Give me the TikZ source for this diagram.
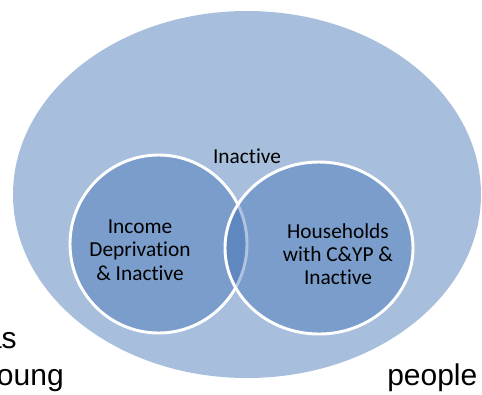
\documentclass[tikz,border=0pt]{standalone}
\usepackage{fontspec}
\setmainfont{Carlito}[Ligatures=NoCommon]
\newfontfamily\arialfont{Liberation Sans}
\usepackage{tikz}
\usetikzlibrary{calc}
\usepackage{xcolor}
\definecolor{outerblue}{RGB}{167,191,220}
\definecolor{innerblue}{RGB}{55,106,178}
\newcommand{\vnlabel}{\fontsize{16}{17.5}\selectfont}
\newcommand{\bodytext}{\arialfont\fontsize{22.5}{26}\selectfont}
\tikzset{
  vncircle/.style={fill=innerblue,fill opacity=0.4,draw=white,line width=2.2pt},
  vntext/.style={align=center,font=\vnlabel,inner sep=0pt},
  pagetext/.style={font=\bodytext,inner sep=0pt}
}

\begin{document}
\begin{tikzpicture}[x=0.75pt,y=0.75pt]

    \coordinate (O) at (0,0);
    \clip (O) rectangle (482,-394);

    \fill[outerblue] ($(O)+(247,-194.5)$) ellipse [x radius=234, y radius=183.5];

    \draw[vncircle] ($(O)+(158.5,-244)$) ellipse [x radius=88.5, y radius=89];
    \draw[vncircle] ($(O)+(319,-248)$) ellipse [x radius=94, y radius=86];

    \node[vntext,anchor=base] (inact) at ($(O)+(247,-163)$) {Inactive};
    \node[vntext] (income) at ($(O)+(140,-250)$) {Income\\Deprivation\\\& Inactive};
    \node[vntext] (house) at ($(O)+(338,-254)$) {Households\\with C\&YP \&\\Inactive};

    \node[pagetext,anchor=base east] (as) at ($(O)+(17,-348)$) {as};
    \node[pagetext,anchor=base east] (oung) at ($(O)+(64,-385)$) {oung};
    \node[pagetext,anchor=base west] (people) at ($(O)+(387,-385)$) {people};

\end{tikzpicture}
\end{document}
